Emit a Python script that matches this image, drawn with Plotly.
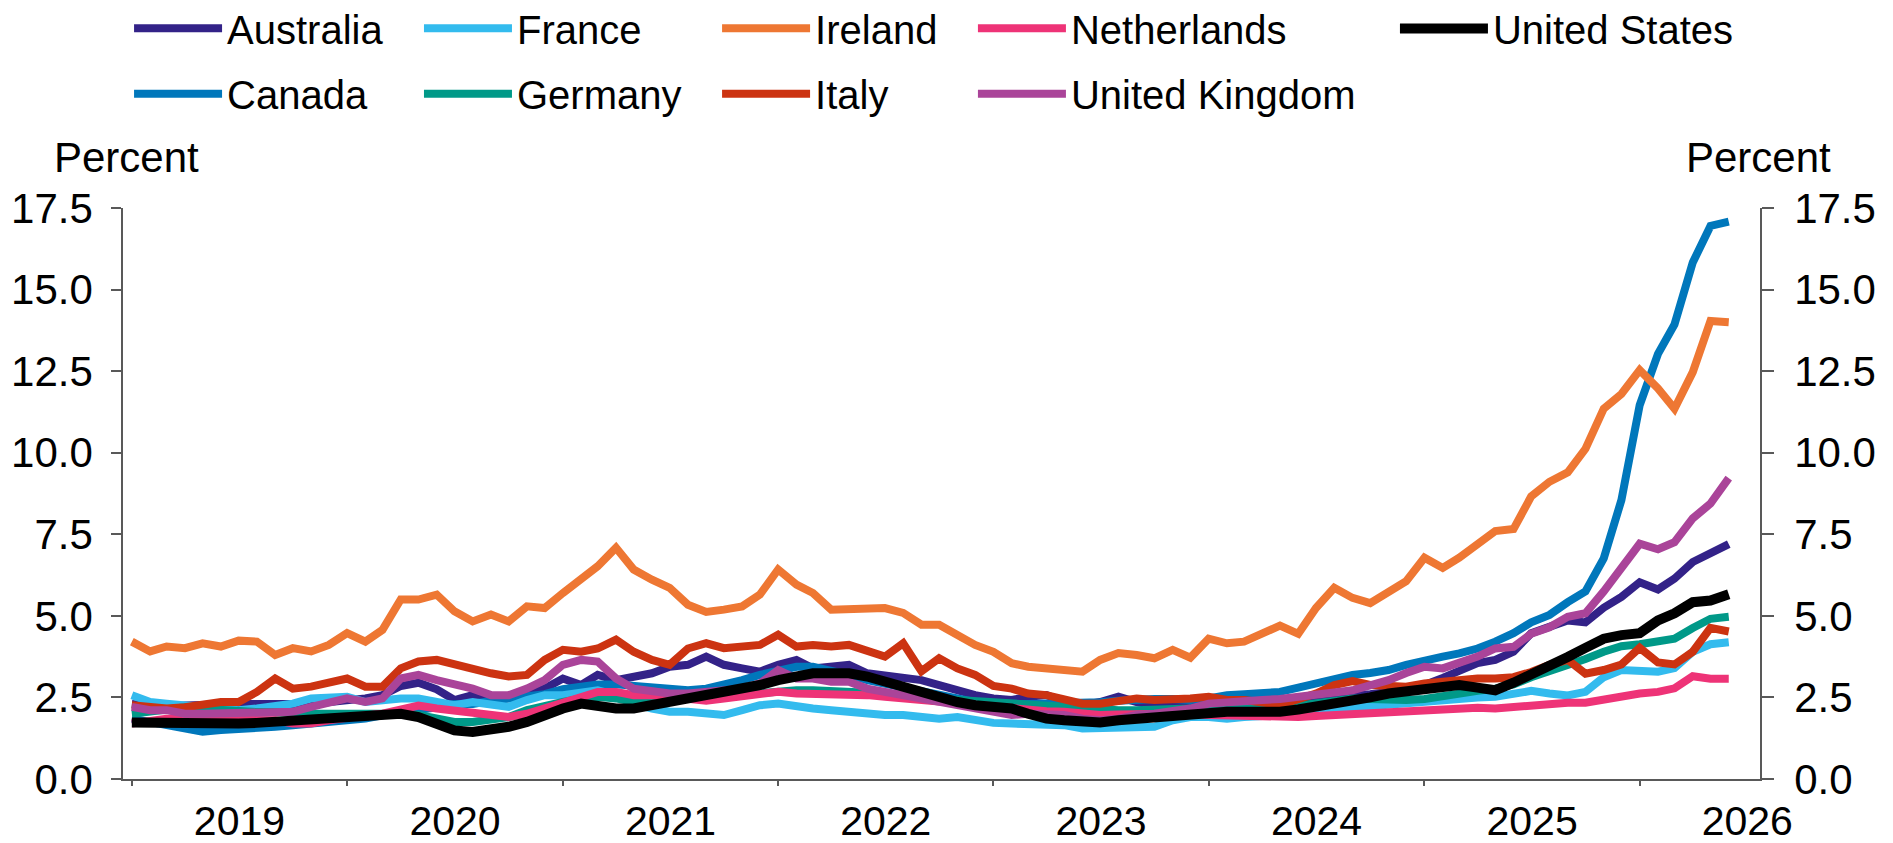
import pandas as pd
import plotly.graph_objects as go

# Monthly observations, Jan 2019 .. Jun 2026 (90 points)
dates = pd.date_range("2019-01-01", periods=90, freq="MS")

australia = [2.30, 2.22, 2.20, 2.25, 2.28, 2.30, 2.30, 2.30, 2.33, 2.30, 2.30, 2.35, 2.40, 2.47, 2.57, 2.85, 2.95,
             2.75, 2.42, 2.57, 2.47, 2.52, 2.57, 2.77, 3.08, 2.88, 3.19, 3.03, 3.14, 3.24, 3.44, 3.50, 3.75,
             3.50, 3.39, 3.29, 3.50, 3.65, 3.39, 3.44, 3.50, 3.24, 3.19, 3.14, 3.03, 2.88, 2.72, 2.57, 2.47,
             2.42, 2.52, 2.57, 2.36, 2.26, 2.36, 2.52, 2.36, 2.26, 2.31, 2.30, 2.30, 2.30, 2.32, 2.34, 2.36,
             2.40, 2.45, 2.50, 2.52, 2.60, 2.67, 2.78, 2.88, 3.10, 3.29, 3.55, 3.65,
             3.90, 4.47, 4.69, 4.86, 4.80, 5.25, 5.58, 6.03, 5.81, 6.14, 6.65, 6.95, 7.20]

canada = [1.85, 1.75, 1.62, 1.50, 1.45, 1.50, 1.52, 1.55, 1.60, 1.65, 1.70, 1.72, 1.78, 1.85, 1.95, 2.02, 2.10,
          2.20, 2.30, 2.30, 2.40, 2.45, 2.50, 2.60, 2.75, 2.85, 2.90, 2.90, 2.85, 2.80, 2.75, 2.72, 2.77,
          2.88, 3.03, 3.19, 3.34, 3.44, 3.44, 3.34, 3.19, 3.03, 2.93, 2.83, 2.72, 2.57, 2.47, 2.36, 2.31,
          2.30, 2.30, 2.30, 2.30, 2.30, 2.35, 2.40, 2.45, 2.45, 2.45, 2.42, 2.47, 2.57, 2.60, 2.62, 2.67,
          2.80, 2.93, 3.05, 3.19, 3.25, 3.34, 3.50, 3.65, 3.75, 3.85, 4.00, 4.21,
          4.47, 4.80, 5.03, 5.42, 5.75, 6.76, 8.55, 11.46, 13.03, 13.93, 15.83, 16.95, 17.08]

france = [2.57, 2.36, 2.31, 2.26, 2.16, 2.11, 2.11, 2.16, 2.21, 2.31, 2.47, 2.52, 2.52, 2.36, 2.42, 2.47, 2.47,
          2.36, 2.26, 2.36, 2.26, 2.21, 2.42, 2.57, 2.57, 2.67, 2.72, 2.57, 2.31, 2.16, 2.06, 2.06, 2.00,
          1.96, 2.11, 2.26, 2.31, 2.21, 2.16, 2.11, 2.06, 2.00, 1.96, 1.96, 1.90, 1.85, 1.90, 1.80, 1.72,
          1.70, 1.70, 1.65, 1.65, 1.55, 1.55, 1.55, 1.55, 1.60, 1.80, 1.90, 1.90, 1.85, 1.90, 1.90, 1.96,
          2.05, 2.10, 2.15, 2.20, 2.25, 2.30, 2.33, 2.36, 2.40, 2.47, 2.50, 2.52,
          2.62, 2.70, 2.62, 2.56, 2.67, 3.12, 3.34, 3.34, 3.29, 3.40, 3.90, 4.13, 4.19]

germany = [2.00, 2.05, 2.10, 2.20, 2.15, 2.10, 2.10, 2.05, 2.05, 2.00, 2.00, 2.00, 2.00, 2.05, 2.05, 2.00, 1.96,
           1.85, 1.75, 1.75, 1.80, 1.90, 2.11, 2.26, 2.36, 2.47, 2.52, 2.47, 2.36, 2.42, 2.47, 2.52, 2.50,
           2.55, 2.57, 2.62, 2.72, 2.72, 2.72, 2.70, 2.67, 2.65, 2.62, 2.55, 2.47, 2.45, 2.42, 2.38, 2.34,
           2.31, 2.31, 2.26, 2.21, 2.16, 2.11, 2.11, 2.11, 2.13, 2.16, 2.18, 2.21, 2.20, 2.16, 2.10, 2.10,
           2.25, 2.31, 2.40, 2.47, 2.45, 2.41, 2.42, 2.45, 2.55, 2.62, 2.70, 2.77,
           2.90, 3.12, 3.30, 3.51, 3.68, 3.90, 4.07, 4.13, 4.24, 4.30, 4.63, 4.91, 4.97]

ireland = [4.21, 3.91, 4.06, 4.01, 4.16, 4.06, 4.24, 4.21, 3.80, 4.01, 3.91, 4.11, 4.47, 4.21, 4.57, 5.50, 5.50,
           5.65, 5.14, 4.83, 5.04, 4.83, 5.29, 5.24, 5.70, 6.17, 6.52, 7.09, 6.42, 6.11, 5.86, 5.34, 5.12,
           5.19, 5.29, 5.65, 6.42, 5.96, 5.70, 5.19, 5.19, 5.19, 5.24, 5.09, 4.73, 4.73, 4.42, 4.11, 3.90,
           3.55, 3.44, 3.39, 3.39, 3.29, 3.65, 3.86, 3.80, 3.70, 3.96, 3.72, 4.30, 4.16, 4.21, 4.47, 4.70,
           4.45, 5.24, 5.86, 5.55, 5.39, 5.75, 6.06, 6.78, 6.47, 6.78, 7.19, 7.60,
           7.66, 8.66, 9.11, 9.40, 10.12, 11.35, 11.80, 12.53, 11.97, 11.35, 12.47, 14.04, 14.00]

italy = [2.26, 2.20, 2.16, 2.20, 2.30, 2.36, 2.36, 2.67, 3.08, 2.77, 2.83, 2.93, 3.08, 2.83, 2.83, 3.39, 3.60,
         3.65, 3.50, 3.39, 3.24, 3.14, 3.19, 3.65, 3.96, 3.90, 4.00, 4.27, 3.90, 3.65, 3.50, 4.00, 4.16,
         4.01, 4.06, 4.11, 4.42, 4.06, 4.11, 4.06, 4.11, 3.90, 3.75, 4.16, 3.30, 3.70, 3.39, 3.19, 2.85,
         2.77, 2.62, 2.57, 2.47, 2.31, 2.31, 2.42, 2.47, 2.42, 2.42, 2.47, 2.52, 2.42, 2.42, 2.36, 2.28,
         2.45, 2.62, 2.88, 3.00, 2.88, 2.83, 2.83, 2.93, 2.98, 3.08, 3.08, 3.08,
         3.12, 3.28, 3.50, 3.65, 3.23, 3.34, 3.51, 4.02, 3.57, 3.51, 3.90, 4.63, 4.52]

netherlands = [1.70, 1.80, 1.85, 1.85, 1.85, 1.80, 1.85, 1.80, 1.80, 1.70, 1.70, 1.80, 1.90, 1.95, 2.00, 2.15, 2.25,
               2.16, 2.11, 2.06, 1.96, 1.90, 2.00, 2.16, 2.31, 2.52, 2.67, 2.67, 2.57, 2.57, 2.52, 2.42, 2.40,
               2.47, 2.52, 2.62, 2.67, 2.62, 2.62, 2.62, 2.57, 2.57, 2.52, 2.47, 2.42, 2.36, 2.31, 2.26, 2.18,
               2.15, 2.11, 2.08, 2.06, 2.00, 1.96, 1.98, 2.00, 2.00, 2.00, 1.98, 1.96, 1.94, 1.90, 1.90, 1.92,
               1.90, 1.93, 1.96, 2.00, 2.03, 2.06, 2.08, 2.11, 2.16, 2.21, 2.18, 2.16,
               2.22, 2.28, 2.30, 2.34, 2.34, 2.45, 2.56, 2.62, 2.67, 2.78, 3.15, 3.07, 3.07]

united_kingdom = [2.21, 2.11, 2.11, 2.00, 2.00, 2.00, 2.06, 2.06, 2.03, 2.06, 2.21, 2.36, 2.47, 2.36, 2.47, 3.08, 3.19,
                  3.03, 2.93, 2.77, 2.57, 2.57, 2.77, 3.03, 3.50, 3.65, 3.60, 3.08, 2.77, 2.67, 2.62, 2.62, 2.67,
                  2.67, 2.77, 2.93, 3.34, 3.08, 3.08, 2.98, 2.98, 2.77, 2.67, 2.57, 2.47, 2.36, 2.26, 2.16, 2.06,
                  1.96, 2.00, 2.00, 1.96, 1.85, 1.80, 1.85, 1.96, 2.00, 2.06, 2.16, 2.31, 2.36, 2.42, 2.42, 2.45,
                  2.50, 2.57, 2.65, 2.72, 2.85, 3.03, 3.25, 3.44, 3.39, 3.54, 3.75, 4.00,
                  4.05, 4.45, 4.65, 4.97, 5.08, 5.75, 6.42, 7.21, 7.04, 7.26, 7.99, 8.44, 9.22]

united_states = [1.73, 1.72, 1.70, 1.68, 1.67, 1.68, 1.70, 1.72, 1.75, 1.78, 1.80, 1.85, 1.90, 1.93, 1.97, 2.00, 1.90,
                 1.65, 1.49, 1.44, 1.49, 1.60, 1.75, 1.96, 2.16, 2.31, 2.21, 2.16, 2.16, 2.26, 2.31, 2.47, 2.57,
                 2.67, 2.77, 2.88, 3.03, 3.14, 3.24, 3.24, 3.24, 3.14, 2.98, 2.83, 2.67, 2.52, 2.36, 2.26, 2.21,
                 2.16, 2.00, 1.85, 1.80, 1.75, 1.73, 1.80, 1.85, 1.90, 1.90, 1.96, 2.00, 2.06, 2.06, 2.04, 2.06,
                 2.13, 2.21, 2.28, 2.36, 2.50, 2.62, 2.70, 2.77, 2.82, 2.88, 2.80, 2.72,
                 2.95, 3.20, 3.42, 3.74, 4.02, 4.30, 4.41, 4.47, 4.86, 5.08, 5.42, 5.47, 5.66]

names = ["Australia", "Canada", "France", "Germany", "Ireland", "Italy",
         "Netherlands", "United Kingdom", "United States"]
values = [australia, canada, france, germany, ireland, italy,
          netherlands, united_kingdom, united_states]
colors = ["#332288", "#0077BB", "#33BBEE", "#009988", "#EE7733", "#CC3311",
          "#EE3377", "#AA4499", "#000000"]
legend_of = ["legend", "legend", "legend2", "legend2", "legend3", "legend3",
             "legend4", "legend4", "legend5"]
y_ticks = [0, 2.5, 5, 7.5, 10, 12.5, 15, 17.5]

FONT = "Liberation Sans, Arial, sans-serif"
AXIS_GRAY = "#595959"

fig = go.Figure()
for name, vals, col, lg in zip(names, values, colors, legend_of):
    is_us = name == "United States"
    fig.add_trace(go.Scatter(
        x=dates, y=vals, name=name, mode="lines",
        line=dict(color=col, width=10 if is_us else 8),
        legend=lg, legendgroup=name,
        yaxis="y2" if is_us else "y",
    ))

legend_common = dict(
    orientation="v", xanchor="left", yanchor="middle",
    font=dict(family=FONT, size=40, color="black"),
    bgcolor="rgba(0,0,0,0)", borderwidth=0,
    itemwidth=88, tracegroupgap=10.6,
    itemclick=False, itemdoubleclick=False,
)
col_x = [0.0037, 0.1808, 0.3629, 0.5192, 0.7770]

fig.update_layout(
    width=1885, height=835,
    margin=dict(l=115, r=133, t=200, b=64, autoexpand=False),
    paper_bgcolor="white", plot_bgcolor="white",
    font=dict(family=FONT, size=42, color="black"),
    showlegend=True,
    legend=dict(legend_common, x=col_x[0], y=1.2570),
    legend2=dict(legend_common, x=col_x[1], y=1.2570),
    legend3=dict(legend_common, x=col_x[2], y=1.2570),
    legend4=dict(legend_common, x=col_x[3], y=1.2570),
    legend5=dict(legend_common, x=col_x[4], y=1.3143),
    xaxis=dict(
        type="date", range=["2018-12-17", "2026-07-24"],
        tick0="2019-01-01", dtick="M12", ticklabelmode="period", tickformat="%Y",
        ticks="outside", ticklen=5, tickwidth=1.5, tickcolor=AXIS_GRAY,
        showline=True, linecolor=AXIS_GRAY, linewidth=1.5,
        showgrid=False, zeroline=False, ticklabelstandoff=0,
        tickfont=dict(family=FONT, size=41, color="black"),
    ),
    yaxis=dict(
        range=[0, 17.5], tickvals=y_ticks, tickformat=".1f",
        ticks="outside", ticklen=10, tickwidth=1.5, tickcolor=AXIS_GRAY,
        showline=True, linecolor=AXIS_GRAY, linewidth=1.5,
        showgrid=False, zeroline=False, ticklabelstandoff=10,
        tickfont=dict(family=FONT, size=42, color="black"),
    ),
    yaxis2=dict(
        range=[0, 17.5], tickvals=y_ticks, tickformat=".1f",
        overlaying="y", side="right",
        ticks="outside", ticklen=12, tickwidth=1.5, tickcolor=AXIS_GRAY,
        showline=True, linecolor=AXIS_GRAY, linewidth=1.5,
        showgrid=False, zeroline=False, ticklabelstandoff=12,
        tickfont=dict(family=FONT, size=42, color="black"),
    ),
    annotations=[
        dict(text="Percent", xref="paper", yref="paper", x=0.002, y=1.089,
             xanchor="center", yanchor="middle", showarrow=False,
             font=dict(family=FONT, size=42, color="black")),
        dict(text="Percent", xref="paper", yref="paper", x=0.999, y=1.089,
             xanchor="center", yanchor="middle", showarrow=False,
             font=dict(family=FONT, size=42, color="black")),
    ],
)

fig.write_html("out.html")
